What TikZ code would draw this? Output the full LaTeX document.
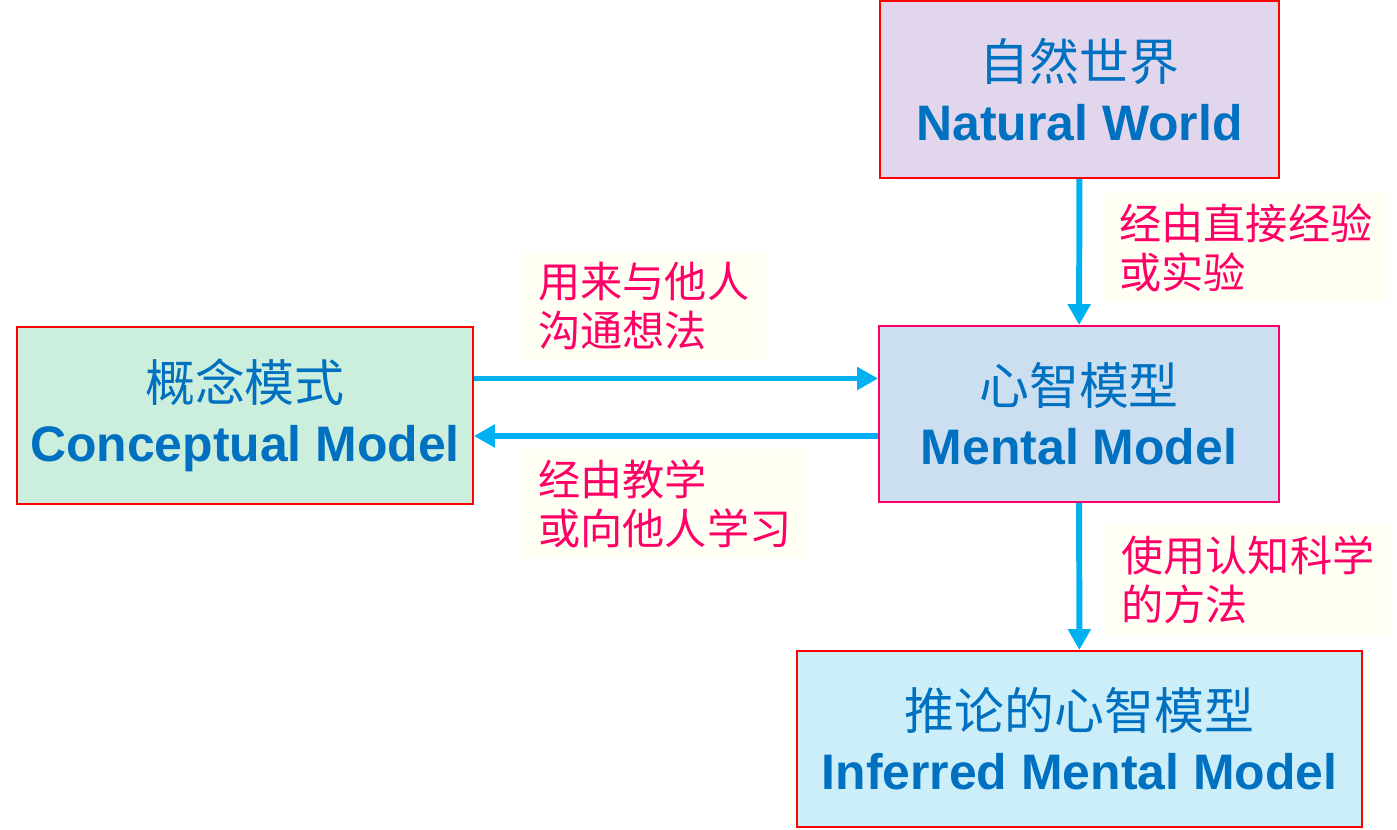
\documentclass[tikz,border=0pt]{standalone}
\usepackage{fontspec}
\setmainfont{Liberation Sans}
\newfontfamily\cjk{Noto Sans CJK SC}
\usetikzlibrary{arrows.meta}
\definecolor{boxblue}{HTML}{0070C0}
\definecolor{flowblue}{HTML}{00B0F0}
\definecolor{notepink}{HTML}{FF0066}
\definecolor{notebg}{HTML}{FFFFF4}
\begin{document}
\begin{tikzpicture}[x=0.02cm, y=-0.02cm,
    main/.style = {draw, line width=1.1pt, align=center, inner sep=0pt, text=boxblue,
                   font=\fontsize{28.4}{34}\selectfont\bfseries},
    note/.style = {fill=notebg, anchor=north west, align=left, inner xsep=0.32cm, inner ysep=0.2cm,
                   text=notepink, font=\cjk\fontsize{24}{28}\selectfont},
    flow/.style = {draw=flowblue, line width=3.4pt, -{Triangle[length=0.42cm, width=0.44cm]}}]
    \useasboundingbox (0,0) rectangle (1397,830);
		\node[main, draw=red, fill={rgb,255:red,226;green,214;blue,236}, minimum width=7.98cm, minimum height=3.54cm] (1) at (1079.5,89.5) {{\cjk\mdseries 自然世界}\\Natural World};
		\node[main, draw=notepink, fill={rgb,255:red,204;green,223;blue,240}, minimum width=8cm, minimum height=3.52cm] (2) at (1079,414) {{\cjk\mdseries 心智模型}\\Mental Model};
		\node[main, draw=red, fill={rgb,255:red,204;green,238;blue,220}, minimum width=9.12cm, minimum height=3.54cm] (3) at (245,415.5) {{\cjk\mdseries 概念模式}\\Conceptual Model};
		\node[main, draw=red, fill={rgb,255:red,204;green,238;blue,249}, minimum width=11.3cm, minimum height=3.52cm] (4) at (1079.5,739) {{\cjk\mdseries 推论的心智模型}\\Inferred Mental Model};
		
		\node[note] (a) at (1103,193) {经由直接经验\\或实验};
		\node[note] (b) at (522,252) {用来与他人\\沟通想法};
		\node[note] (c) at (522,449) {经由教学\\或向他人学习};
		\node[note] (d) at (1105,525) {使用认知科学\\的方法};
		
		\draw[flow] (1) -- (2);
		\draw[flow] ([yshift=0.74cm]3.east) -- ([yshift=0.74cm]3.east -| 2.west);
		\draw[flow] ([yshift=-0.44cm]2.west) -- ([yshift=-0.44cm]2.west -| 3.east);
		\draw[flow] (2) -- (4);
	\end{tikzpicture}
\end{document}
